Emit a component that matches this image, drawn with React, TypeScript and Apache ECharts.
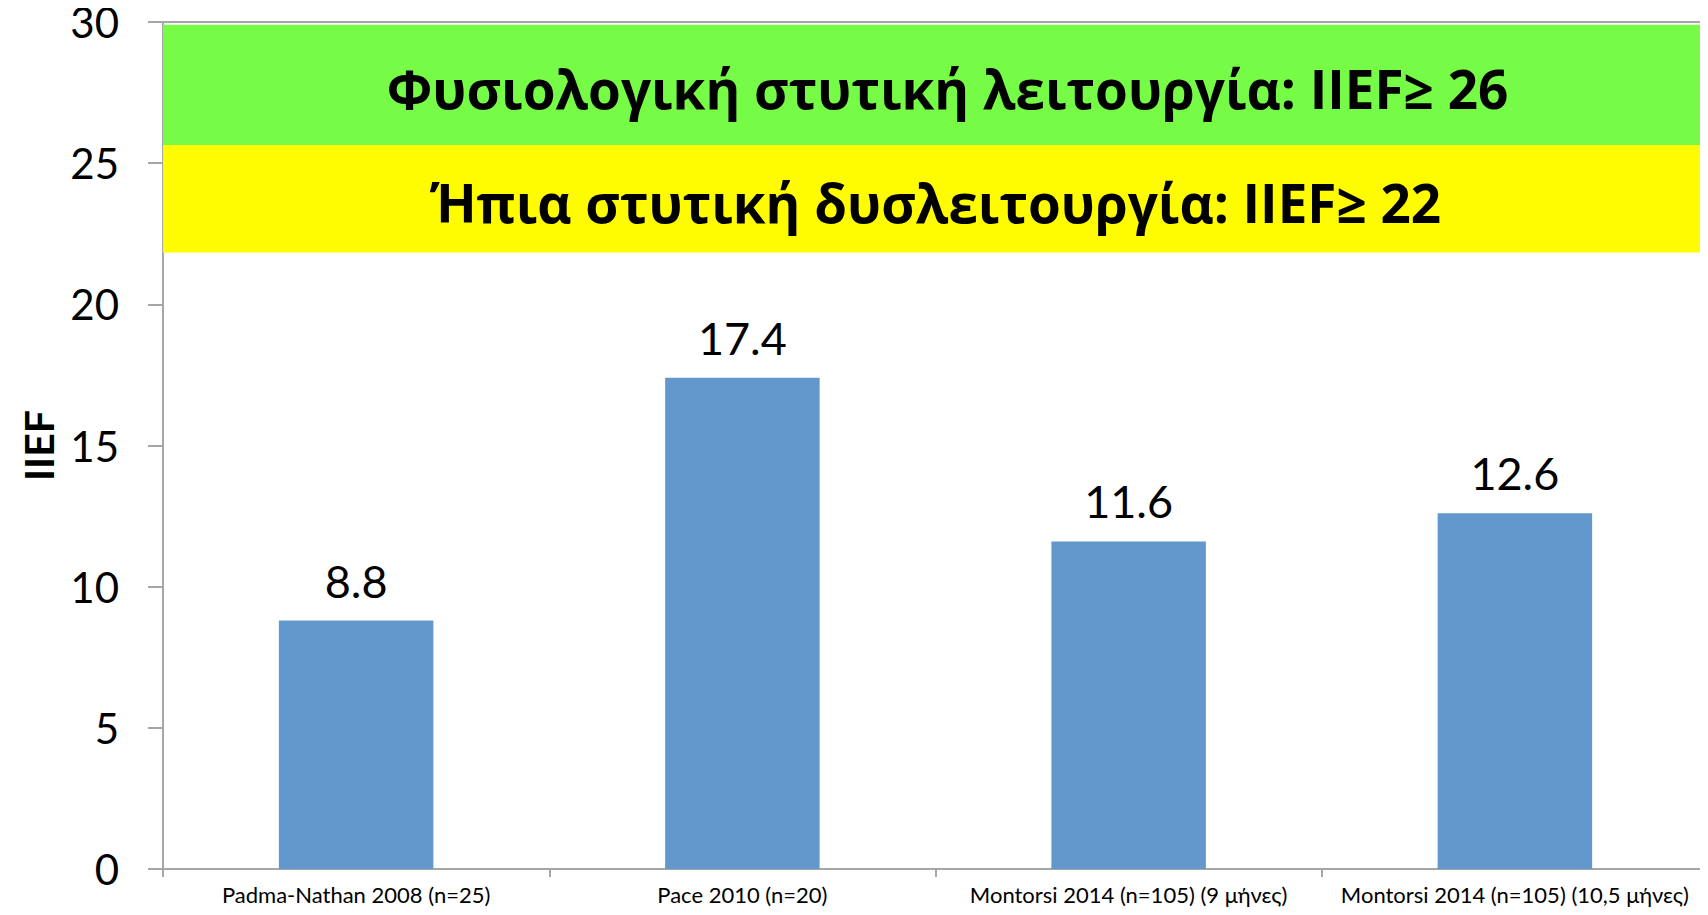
import React, { useEffect, useRef } from "react";
import * as echarts from "echarts";

const categories = [
  "Padma-Nathan 2008 (n=25)",
  "Pace 2010 (n=20)",
  "Montorsi 2014 (n=105) (9 μήνες)",
  "Montorsi 2014 (n=105) (10,5 μήνες)",
];
const iiefValues = [8.8, 17.4, 11.6, 12.6];
const yTicks = { min: 0, max: 30, interval: 5 };
const bandNormal = { from: 25.64, to: 29.9, label: "Φυσιολογική στυτική λειτουργία: IIEF≥ 26" };
const bandMild = { from: 21.84, to: 25.64, label: "Ήπια στυτική δυσλειτουργία: IIEF≥ 22" };
const topLineValue = 30;

const FONT = 'Lato, "Open Sans", sans-serif';
const AXIS_GRAY = "#A6A6A6";

export default function App() {
  const ref = useRef<HTMLDivElement>(null);
  useEffect(() => {
    if (!ref.current) return;
    const chart = echarts.init(ref.current, undefined, { renderer: "svg" });
    chart.setOption({
      animation: false,
      textStyle: { fontFamily: FONT },
      grid: { left: 163, right: 0, top: 22, bottom: 46, containLabel: false },
      xAxis: {
        type: "category",
        data: categories,
        axisLine: { show: true, lineStyle: { color: AXIS_GRAY, width: 2 } },
        axisTick: { show: true, length: 8, lineStyle: { color: AXIS_GRAY, width: 2 } },
        axisLabel: { color: "#000", fontSize: 22, lineHeight: 22, fontFamily: FONT, margin: 14, interval: 0 },
      },
      yAxis: {
        type: "value",
        min: yTicks.min,
        max: yTicks.max,
        interval: yTicks.interval,
        name: "IIEF",
        nameLocation: "middle",
        nameGap: 99,
        nameTextStyle: { color: "#000", fontSize: 41, fontWeight: "bold", fontFamily: FONT },
        axisLine: { show: true, lineStyle: { color: AXIS_GRAY, width: 2 } },
        axisTick: { show: true, length: 15, lineStyle: { color: AXIS_GRAY, width: 2 } },
        splitLine: { show: false },
        axisLabel: { color: "#000", fontSize: 42, lineHeight: 34, fontFamily: FONT, margin: 44 },
      },
      series: [
        {
          type: "bar",
          data: iiefValues,
          barWidth: "40%",
          itemStyle: { color: "#6298CB" },
          label: {
            show: true,
            position: "top",
            distance: 20,
            color: "#000",
            fontSize: 45,
            lineHeight: 40,
            fontFamily: FONT,
          },
          markArea: {
            silent: true,
            itemStyle: { opacity: 1 },
            label: {
              show: true,
              position: "inside",
              color: "#000",
              fontSize: 53,
              fontWeight: "bold",
              fontFamily: '"Open Sans", sans-serif',
            },
            data: [
              [
                { yAxis: bandNormal.from, name: bandNormal.label, itemStyle: { color: "#76FB46", opacity: 1 }, label: { offset: [12, 4] } },
                { yAxis: bandNormal.to },
              ],
              [
                { yAxis: bandMild.from, name: bandMild.label, itemStyle: { color: "#FFFB00", opacity: 1 }, label: { offset: [0, 4] } },
                { yAxis: bandMild.to },
              ],
            ],
          },
          markLine: {
            silent: true,
            symbol: "none",
            label: { show: false },
            lineStyle: { color: AXIS_GRAY, width: 2, type: "solid" },
            data: [{ yAxis: topLineValue }],
          },
        },
      ],
    });
    return () => chart.dispose();
  }, []);
  return <div ref={ref} style={{ width: 1708, height: 915, margin: -8 }} />;
}
